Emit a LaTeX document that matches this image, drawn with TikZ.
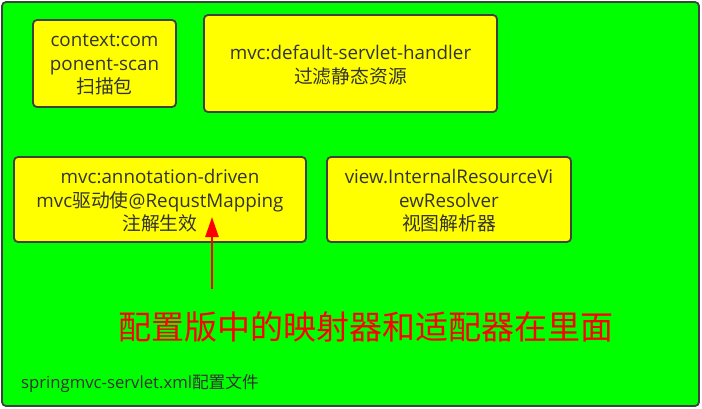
\documentclass[tikz,border=0pt]{standalone}
\usepackage{fontspec}
\setmainfont{Open Sans}
\newfontfamily\cjk{Noto Sans CJK SC}
\usetikzlibrary{arrows.meta}
\definecolor{bggreen}{HTML}{00FF00}
\definecolor{boxyellow}{HTML}{FFFF00}
\definecolor{edge}{HTML}{404040}
\definecolor{txt}{HTML}{333333}
\definecolor{redtxt}{HTML}{FF0000}
\tikzset{
  ybox/.style={draw=edge, line width=1.8pt, fill=boxyellow, rounded corners=4pt},
  btext/.style={text=txt, font=\fontsize{18.8}{23.5}\selectfont, align=center, inner sep=0pt},
}
\begin{document}
\begin{tikzpicture}[x=1pt,y=-1pt]
\useasboundingbox (0,0) rectangle (702,408);
\draw[draw=edge, line width=1.8pt, fill=bggreen, rounded corners=4pt] (2,2) rectangle (699,406);
% boxes
\draw[ybox] (33,20) rectangle (176,107);
\node[btext] (b1) at (104.5,65) {context:com\\ponent-scan\\{\cjk 扫描包}};
\draw[ybox] (204,15) rectangle (497,112);
\node[btext] (b2) at (350.5,65) {mvc:default-servlet-handler\\{\cjk 过滤静态资源}};
\draw[ybox] (14,157) rectangle (306,242);
\node[btext] (b3) at (160,201) {mvc:annotation-driven\\mvc{\cjk 驱动使}@RequstMapping\\{\cjk 注解生效}};
\draw[ybox] (327,157) rectangle (571,242);
\node[btext] (b4) at (449,201) {view.InternalResourceVi\\ewResolver\\{\cjk 视图解析器}};
% arrow
\coordinate (tail) at (212,289);
\coordinate (tip) at (212,217);
\draw[redtxt, line width=2.5pt, -{Triangle[length=20pt,width=13pt]}] (tail) -- (tip);
\node[text=redtxt, font=\fontsize{33}{36}\selectfont\cjk, inner sep=0pt] (red) at (366,327) {配置版中的映射器和适配器在里面};
\node[text=txt, font=\fontsize{16.7}{18}\selectfont, inner sep=0pt, anchor=west] (foot) at (21,383) {springmvc-servlet.xml{\cjk 配置文件}};
\end{tikzpicture}
\end{document}
